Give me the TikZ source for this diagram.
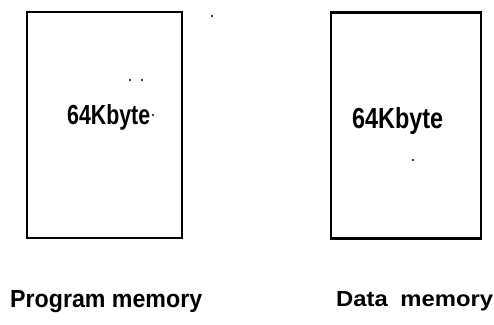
\documentclass[tikz,border=0pt]{standalone}
\usepackage{fontspec}
\setmainfont{Liberation Sans}
\begin{document}
\begin{tikzpicture}[x=1pt,y=-1pt,
  membox/.style={draw=black, line width=2.8pt, minimum width=155pt, minimum height=226pt, inner sep=0pt},
  ink/.style={inner sep=0pt, text=black, font=\bfseries},
  speck/.style={fill=black, circle, inner sep=0pt, minimum size=2.4pt}]
  % page frame
  \useasboundingbox (0,0) rectangle (494,324);
  % the two memory blocks
  \node[membox] (prog) at (104.5,125) {};
  \node[membox, minimum width=150pt, minimum height=226pt] (data) at (406,125.5) {};
  % sizes written inside
  \node[ink, anchor=base west] (progsize) at (67,124) {\resizebox{83pt}{20pt}{64Kbyte}};
  \node[ink, anchor=base west] (datasize) at (352,128) {\resizebox{91pt}{21pt}{64Kbyte}};
  % captions below the blocks
  \node[ink, anchor=base west] (proglabel) at (10,307) {\resizebox{192pt}{17pt}{Program memory}};
  \node[ink, anchor=base west] (datalabel) at (336,306) {\resizebox{157pt}{15pt}{Data\hspace{0.25em} memory}};
  % stray pencil marks
  \node[speck] (s1) at (212,16) {};
  \node[speck] (s2) at (130,80) {};
  \node[speck] (s3) at (142,80) {};
  \node[speck] (s5) at (153,115) {};
  \node[speck] (s4) at (413,160) {};
\end{tikzpicture}
\end{document}
